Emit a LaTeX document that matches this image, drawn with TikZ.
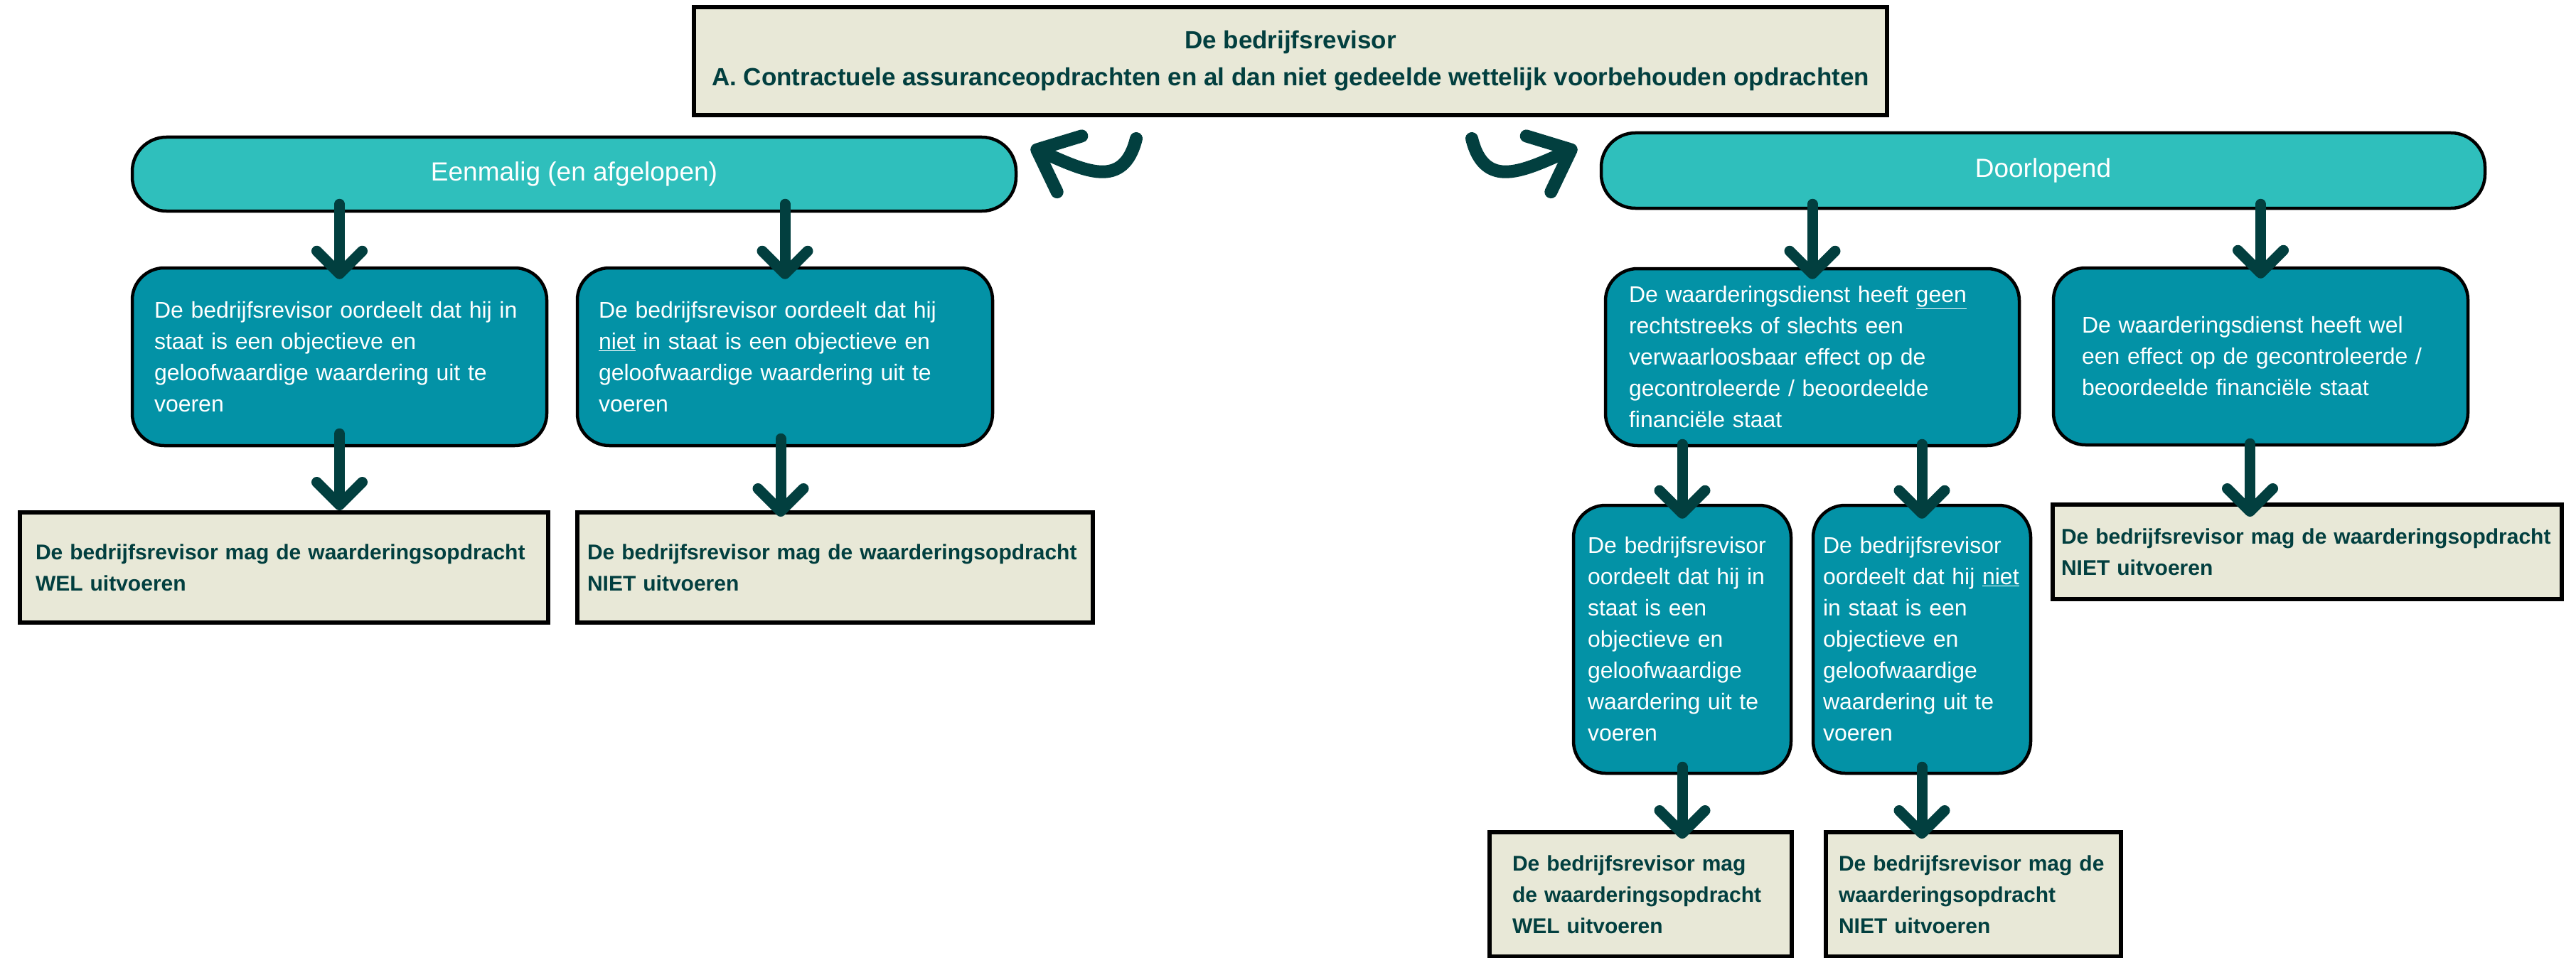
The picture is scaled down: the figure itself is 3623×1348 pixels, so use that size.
\documentclass[tikz,border=0pt]{standalone}
\usepackage{fontspec}
\setmainfont{Liberation Sans}
\usetikzlibrary{arrows.meta,calc}
\definecolor{dteal}{HTML}{023F3F}
\definecolor{beige}{HTML}{E8E8D7}
\definecolor{turq}{HTML}{2FBFBC}
\definecolor{mteal}{HTML}{0392A6}
\begin{document}
\begin{tikzpicture}[x=1pt,y=-1pt,
  base/.style={draw=black, inner xsep=0pt, inner ysep=0pt, align=left},
  beigebox/.style={base, fill=beige, line width=6pt, text=dteal, font=\fontsize{30pt}{44pt}\selectfont\bfseries},
  tealbox/.style={base, fill=mteal, line width=4.5pt, rounded corners=45pt, text=white, font=\fontsize{32pt}{44pt}\selectfont},
  pill/.style={base, fill=turq, line width=4.5pt, rounded corners=48pt, text=white, font=\fontsize{37pt}{44pt}\selectfont, align=center},
  arr/.style={draw=dteal, line width=15pt, line cap=round, -{Straight Barb[length=32pt,width=64pt,round]}},
  carr/.style={draw=dteal, line width=18pt, line cap=round, -{Straight Barb[length=50pt,width=86pt,round]}}
]
\fill[white] (0,0) rectangle (3623,1348);
\useasboundingbox (0,0) rectangle (3623,1348);

% top
\node[beigebox, align=center, minimum width=1678pt, minimum height=152pt,
      font=\fontsize{35pt}{52pt}\selectfont\bfseries] (top) at (1815,86)
  {De bedrijfsrevisor\\A. Contractuele assuranceopdrachten en al dan niet gedeelde wettelijk voorbehouden opdrachten};

% pills
\node[pill, minimum width=1243pt, minimum height=104pt] (een) at (807.5,245) {Eenmalig (en afgelopen)};
\node[pill, minimum width=1243pt, minimum height=106pt] (door) at (2873.5,240) {Doorlopend};

% left teal boxes
\node[tealbox, minimum width=583pt, minimum height=250pt, text width=521pt] (L1) at (477.5,502)
  {De bedrijfsrevisor oordeelt dat hij in\\staat is een objectieve en\\geloofwaardige waardering uit te\\voeren};
\node[tealbox, minimum width=584pt, minimum height=250pt, text width=524pt] (L2) at (1104,502)
  {De bedrijfsrevisor oordeelt dat hij\\\underline{niet} in staat is een objectieve en\\geloofwaardige waardering uit te\\voeren};

% right teal boxes
\node[tealbox, minimum width=582pt, minimum height=249pt, text width=516pt] (R1) at (2549,502.5)
  {De waarderingsdienst heeft \underline{geen}\\rechtstreeks of slechts een\\verwaarloosbaar effect op de\\gecontroleerde / beoordeelde\\financiële staat};
\node[tealbox, minimum width=583pt, minimum height=249pt, text width=503pt] (R2) at (3179.5,501.5)
  {De waarderingsdienst heeft wel\\een effect op de gecontroleerde /\\beoordeelde financiële staat};
\node[tealbox, minimum width=306pt, minimum height=377pt, text width=266pt] (R1a) at (2366,899.5)
  {De bedrijfsrevisor\\oordeelt dat hij in\\staat is een\\objectieve en\\geloofwaardige\\waardering uit te\\voeren};
\node[tealbox, minimum width=306pt, minimum height=377pt, text width=278pt] (R1b) at (2703,899.5)
  {De bedrijfsrevisor\\oordeelt dat hij \underline{niet}\\in staat is een\\objectieve en\\geloofwaardige\\waardering uit te\\voeren};

% beige outcome boxes
\node[beigebox, minimum width=743pt, minimum height=155pt, text width=699pt] (BL1) at (399.5,798.5)
  {De bedrijfsrevisor mag de waarderingsopdracht\\WEL uitvoeren};
\node[beigebox, minimum width=725pt, minimum height=155pt, text width=697pt] (BL2) at (1174.5,798.5)
  {De bedrijfsrevisor mag de waarderingsopdracht\\NIET uitvoeren};
\node[beigebox, minimum width=716pt, minimum height=133pt, text width=692pt] (BR3) at (3245,776.5)
  {De bedrijfsrevisor mag de waarderingsopdracht\\NIET uitvoeren};
\node[beigebox, minimum width=425pt, minimum height=175pt, text width=361pt] (BR1) at (2307.5,1258.5)
  {De bedrijfsrevisor mag\\de waarderingsopdracht\\WEL uitvoeren};
\node[beigebox, minimum width=415pt, minimum height=175pt, text width=379pt] (BR2) at (2775.5,1258.5)
  {De bedrijfsrevisor mag de\\waarderingsopdracht\\NIET uitvoeren};

% straight arrows
\draw[arr] ($(een.south -| L1.north)+(0,-12)$) -- ($(L1.north)+(0,18)$);
\draw[arr] ($(een.south -| L2.north)+(0,-12)$) -- ($(L2.north)+(0,18)$);
\draw[arr] ($(L1.south)+(0,-19)$) -- (L1.south |- BL1.north);
\draw[arr] ($(L2.south)+(-6,-12)$) -- ($(L2.south |- BL2.north)+(-6,9)$);
\draw[arr] ($(door.south -| R1.north)+(0,-8)$) -- ($(R1.north)+(0,17)$);
\draw[arr] ($(door.south -| R2.north)+(0,-8)$) -- ($(R2.north)+(0,17)$);
\draw[arr] ($(R1.south -| R1a.north)+(0,-4)$) -- ($(R1a.north)+(0,21)$);
\draw[arr] ($(R1.south -| R1b.north)+(0,-4)$) -- ($(R1b.north)+(0,21)$);
\draw[arr] ($(R2.south)+(-15,-4)$) -- ($(R2.south |- BR3.north)+(-15,20)$);
\draw[arr] ($(R1a.south)+(0,-11)$) -- ($(R1a.south |- BR1.north)+(0,12)$);
\draw[arr] ($(R1b.south)+(0,-11)$) -- ($(R1b.south |- BR2.north)+(0,12)$);

% curved arrows
\coordinate (cla) at (1598,195);
\coordinate (clb) at (1450,207);
\coordinate (cra) at (2070,195);
\coordinate (crb) at (2218,207);
\draw[carr] (cla) .. controls (1580,268) and (1525,240) .. (clb);
\draw[carr] (cra) .. controls (2088,268) and (2143,240) .. (crb);
\end{tikzpicture}
\end{document}
